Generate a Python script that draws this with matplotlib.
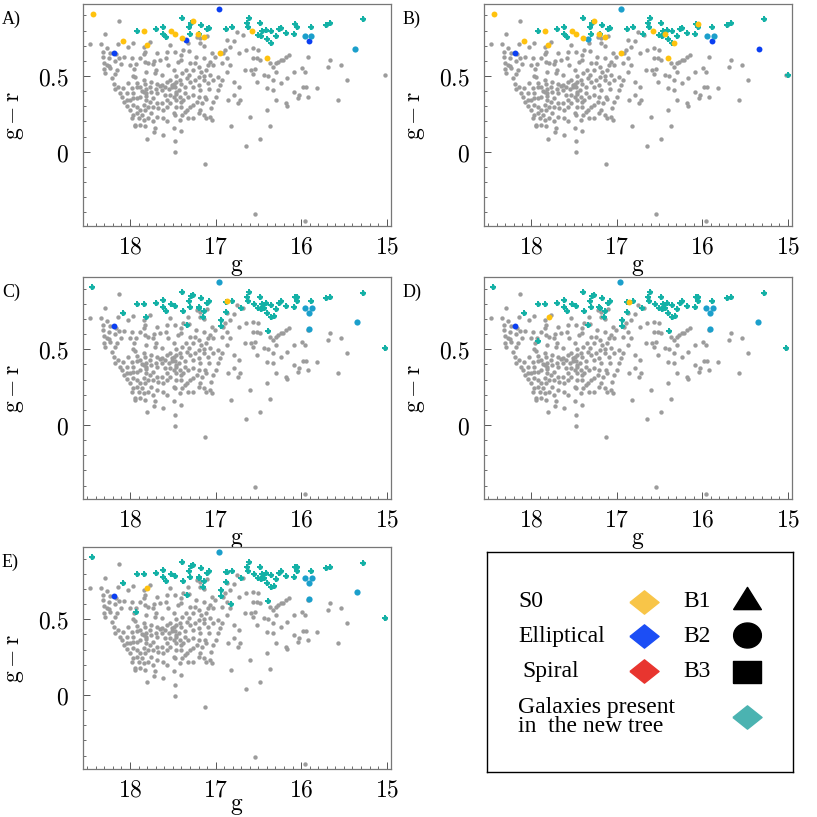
import numpy as np
import matplotlib.pyplot as plt
from matplotlib.ticker import MultipleLocator, FixedLocator, FixedFormatter

plt.rcParams['mathtext.fontset'] = 'cm'

# ---------------- datos: galaxias (g, g-r) ----------------
# galaxias sin clasificar (gris), iguales en todos los paneles
others = [
    (18.47, 0.708), (18.13, 0.862), (18.29, 0.774), (18.34, 0.708), (18.27, 0.686), (18.32, 0.66),
    (18.32, 0.627), (18.23, 0.653), (18.14, 0.71), (18.16, 0.643), (18.30, 0.588), (18.27, 0.572),
    (18.25, 0.566), (18.23, 0.55), (18.31, 0.544), (18.13, 0.62), (18.07, 0.623), (18.11, 0.577),
    (18.21, 0.485), (18.18, 0.513), (18.15, 0.54), (17.97, 0.72), (17.84, 0.643), (17.82, 0.66),
    (17.83, 0.594), (17.98, 0.616), (18.00, 0.572), (17.95, 0.544), (17.93, 0.577), (17.96, 0.50),
    (17.94, 0.49), (17.72, 0.60), (17.73, 0.577), (17.79, 0.583), (17.81, 0.528), (17.70, 0.54),
    (17.71, 0.518), (17.63, 0.507), (17.65, 0.434), (17.68, 0.45), (17.82, 0.45), (17.75, 0.463),
    (17.84, 0.474), (17.88, 0.43), (17.81, 0.412), (17.77, 0.43), (17.86, 0.403), (17.92, 0.425),
    (17.98, 0.419), (17.96, 0.386), (18.04, 0.386), (18.12, 0.386), (18.18, 0.412), (18.19, 0.45),
    (18.14, 0.43), (18.08, 0.419), (18.09, 0.364), (18.07, 0.331), (18.00, 0.342), (17.96, 0.353),
    (17.92, 0.353), (17.96, 0.309), (18.04, 0.303), (18.00, 0.276), (17.96, 0.243), (17.94, 0.178),
    (17.94, 0.167), (17.98, 0.221), (17.88, 0.276), (17.86, 0.243), (17.89, 0.221), (17.84, 0.309),
    (17.81, 0.342), (17.77, 0.331), (17.81, 0.368), (17.73, 0.353), (17.69, 0.386), (17.75, 0.254),
    (17.79, 0.221), (17.69, 0.232), (17.73, 0.20), (17.82, 0.167), (17.71, 0.156), (17.72, 0.127),
    (17.80, 0.083), (17.61, 0.112), (17.61, 0.276), (17.63, 0.32), (17.57, 0.342), (17.53, 0.375),
    (17.59, 0.375), (17.55, 0.412), (17.51, 0.425), (17.49, 0.45), (17.53, 0.474), (17.46, 0.463),
    (17.42, 0.474), (17.40, 0.45), (17.46, 0.50), (17.49, 0.54), (17.58, 0.616), (17.56, 0.572),
    (17.53, 0.704), (17.57, 0.66), (17.47, 0.66), (17.40, 0.605), (17.38, 0.671), (17.31, 0.664),
    (17.32, 0.715), (17.22, 0.759), (17.18, 0.748), (17.18, 0.715), (17.14, 0.697), (17.10, 0.763),
    (17.30, 0.583), (17.26, 0.54), (17.35, 0.54), (17.39, 0.518), (17.34, 0.485), (17.30, 0.463),
    (17.27, 0.43), (17.36, 0.425), (17.43, 0.408), (17.46, 0.397), (17.49, 0.364), (17.46, 0.342),
    (17.40, 0.331), (17.46, 0.298), (17.49, 0.254), (17.47, 0.243), (17.39, 0.243), (17.36, 0.265),
    (17.33, 0.276), (17.30, 0.298), (17.26, 0.309), (17.22, 0.331), (17.32, 0.364), (17.26, 0.375),
    (17.20, 0.364), (17.18, 0.408), (17.20, 0.441), (17.14, 0.474), (17.17, 0.528), (17.11, 0.54),
    (17.09, 0.572), (17.03, 0.572), (17.07, 0.507), (17.03, 0.474), (17.09, 0.452), (17.08, 0.412),
    (17.12, 0.364), (17.11, 0.346), (17.16, 0.32), (17.18, 0.276), (17.14, 0.243), (17.07, 0.232),
    (17.05, 0.287), (17.03, 0.331), (16.99, 0.364), (16.97, 0.408), (16.95, 0.441), (16.93, 0.474),
    (16.97, 0.496), (16.87, 0.528), (16.83, 0.572), (16.87, 0.616), (16.91, 0.649), (16.89, 0.671),
    (16.83, 0.693), (16.87, 0.737), (16.75, 0.792), (16.68, 0.77), (16.79, 0.73), (16.73, 0.649),
    (16.79, 0.463), (16.73, 0.43), (16.79, 0.375), (16.85, 0.342), (16.74, 0.32), (16.72, 0.342),
    (16.82, 0.167), (17.04, 0.211), (17.49, 0.156), (17.40, 0.134), (17.48, 0.068), (17.47, -0.004),
    (17.12, -0.079), (16.64, 0.039), (16.54, -0.41), (15.96, -0.458), (16.60, 0.232), (16.48, 0.083),
    (16.37, 0.171), (16.40, 0.276), (16.29, 0.342), (16.18, 0.32), (16.16, 0.303), (16.08, 0.397),
    (16.03, 0.375), (16.04, 0.353), (15.98, 0.425), (15.94, 0.425), (15.92, 0.364), (15.82, 0.419),
    (15.57, 0.342), (15.47, 0.474), (15.02, 0.507), (15.69, 0.561), (15.66, 0.605), (15.53, 0.572),
    (15.99, 0.55), (15.96, 0.528), (15.92, 0.627), (16.08, 0.528), (16.16, 0.485), (16.24, 0.452),
    (16.33, 0.474), (16.40, 0.419), (16.33, 0.408), (16.39, 0.50), (16.44, 0.507), (16.52, 0.463),
    (16.56, 0.513), (16.54, 0.546), (16.59, 0.54), (16.66, 0.54), (16.56, 0.616), (16.52, 0.616),
    (16.48, 0.605), (16.37, 0.583), (16.33, 0.561), (16.29, 0.583), (16.27, 0.594), (16.24, 0.605),
    (16.21, 0.605), (16.18, 0.627), (16.14, 0.638), (16.29, 0.528), (16.50, 0.671), (16.56, 0.682),
    (16.64, 0.671), (16.92, 0.583), (17.01, 0.627), (17.04, 0.649), (17.13, 0.616), (17.07, 0.594),
    (17.23, 0.627), (17.24, 0.583), (17.19, 0.561), (17.40, 0.638), (17.44, 0.594), (17.65, 0.605),
    (17.69, 0.649), (17.77, 0.726), (17.84, 0.693), (17.88, 0.616), (18.02, 0.693), (18.18, 0.601),
    (18.29, 0.518), (18.25, 0.616), (17.14, 0.50), (17.31, 0.507), (17.24, 0.474), (17.19, 0.496),
    (17.36, 0.386), (17.57, 0.298), (17.67, 0.287), (17.69, 0.32), (17.73, 0.298), (17.79, 0.298),
    (17.82, 0.276), (17.92, 0.254), (18.04, 0.342), (18.02, 0.452), (17.92, 0.456), (17.88, 0.364),
    (17.84, 0.397), (17.81, 0.386), (17.75, 0.397), (17.70, 0.412), (17.63, 0.408), (17.63, 0.441),
    (17.57, 0.463), (17.59, 0.43), (17.51, 0.441), (17.47, 0.425), (17.46, 0.382), (17.42, 0.364),
    (17.40, 0.298), (17.38, 0.342), (17.53, 0.32), (17.61, 0.221), (17.57, 0.20), (17.42, 0.211),
    (17.32, 0.221), (17.26, 0.221), (17.11, 0.221), (17.20, 0.254), (17.92, 0.298), (17.84, 0.211),
    (17.88, 0.178),
]

# galaxias del nuevo arbol presentes en todos los paneles
tree_base = [
    (17.92, 0.798), (17.70, 0.807), (17.62, 0.825), (17.61, 0.78), (17.58, 0.755),
    (17.39, 0.88), (17.29, 0.849), (17.31, 0.82), (17.30, 0.778), (17.19, 0.774), (17.17, 0.836),
    (17.10, 0.807), (17.08, 0.816), (16.88, 0.811), (16.81, 0.82),
    (16.61, 0.88), (16.63, 0.847), (16.62, 0.82), (16.48, 0.847), (16.50, 0.772), (16.47, 0.765),
    (16.46, 0.80), (16.41, 0.805), (16.35, 0.794), (16.40, 0.741), (16.35, 0.715), (16.29, 0.763),
    (16.26, 0.807), (16.23, 0.816), (16.18, 0.783), (16.07, 0.842), (16.05, 0.82), (16.08, 0.78),
    (15.89, 0.82), (15.71, 0.836), (15.66, 0.847), (15.28, 0.873),
]
# extras del nuevo arbol en C, D y E
tree_cde = [
    (18.44, 0.912), (18.08, 0.737), (17.84, 0.80), (17.52, 0.80), (17.47, 0.785), (17.38, 0.754),
    (17.33, 0.66), (17.26, 0.857), (17.20, 0.78), (17.14, 0.755), (17.15, 0.71), (16.94, 0.693),
    (16.94, 0.651), (16.88, 0.748), (16.70, 0.775), (16.55, 0.80), (16.44, 0.774), (16.32, 0.72),
    (16.39, 0.622), (16.05, 0.842), (15.02, 0.506),
]

s0_A = [(18.43, 0.908), (17.84, 0.80), (18.08, 0.73), (17.80, 0.706), (17.52, 0.80), (17.48, 0.78),
        (17.39, 0.752), (17.26, 0.86), (17.21, 0.776), (17.14, 0.755), (16.95, 0.65), (16.395, 0.616),
        (16.57, 0.80)]
ell_A = [(16.96, 0.94), (18.19, 0.651), (17.35, 0.74), (15.91, 0.732)]
mix_A = [(15.37, 0.678), (15.95, 0.763), (15.88, 0.765)]
tree_A = tree_base

s0_B = s0_A + [(16.44, 0.774), (16.33, 0.715), (16.05, 0.842)]
ell_B = [(18.19, 0.653), (15.89, 0.732), (15.34, 0.678)]
mix_B = [(16.95, 0.94), (17.34, 0.741), (15.94, 0.765), (15.86, 0.765)]
tree_B = tree_base + [(15.0, 0.504), (16.69, 0.774)]

mix_CDE = [(16.96, 0.945), (15.35, 0.68), (15.95, 0.77), (15.87, 0.77), (15.91, 0.737), (15.91, 0.632)]
ell_CDE = [(18.19, 0.655)]

s0_C = [(16.87, 0.818)]
tree_C = tree_base + tree_cde + [(17.81, 0.71)]

s0_D = [(16.86, 0.81), (17.79, 0.714)]
tree_D = tree_base + tree_cde + [(17.92, 0.555)]

s0_E = [(17.80, 0.704)]
tree_E = tree_base + tree_cde + [(17.93, 0.548), (16.82, 0.60), (16.87, 0.81)]

paneles = {
    'A)': (tree_A, s0_A, ell_A, mix_A),
    'B)': (tree_B, s0_B, ell_B, mix_B),
    'C)': (tree_C, s0_C, ell_CDE, mix_CDE),
    'D)': (tree_D, s0_D, ell_CDE, mix_CDE),
    'E)': (tree_E, s0_E, ell_CDE, mix_CDE),
}

# colores
c_gris = '#9c9c9c'
c_s0 = '#ffc20e'
c_ell = '#0b3ff2'
c_tree = '#14b1a6'
c_mix = '#1b9fcb'

# ---------------- figura ----------------
fig = plt.figure(figsize=(8.17, 8.17), dpi=100)

W, H = 308 / 817, 222 / 817
posiciones = {
    'A)': (83 / 817, 0.7234), 'B)': (484 / 817, 0.7234),
    'C)': (83 / 817, 0.3889), 'D)': (484 / 817, 0.3889),
    'E)': (83 / 817, 0.0584),
}

def dibujar(ax, pts, color, s, marker='o', z=2):
    if len(pts) == 0:
        return
    arr = np.array(pts)
    ax.scatter(arr[:, 0], arr[:, 1], s=s, c=color, marker=marker, linewidths=0, zorder=z)

for nombre, (tree, s0, ell, mix) in paneles.items():
    x0, y0 = posiciones[nombre]
    ax = fig.add_axes([x0, y0, W, H])
    dibujar(ax, others, c_gris, 10)
    dibujar(ax, ell, c_ell, 18, z=3)
    dibujar(ax, mix, c_mix, 20, z=4)
    # cruz redondeada para las del nuevo arbol
    dibujar(ax, tree, c_tree, 16, marker='P', z=4)
    dibujar(ax, tree, c_tree, 11, z=4)
    dibujar(ax, s0, c_s0, 18, z=5)

    ax.set_xlim(18.55, 14.95)
    ax.set_ylim(-0.49, 0.975)
    ax.xaxis.set_major_locator(FixedLocator([18, 17, 16, 15]))
    ax.xaxis.set_major_formatter(FixedFormatter(['$18$', '$17$', '$16$', '$15$']))
    ax.yaxis.set_major_locator(FixedLocator([0, 0.5]))
    ax.yaxis.set_major_formatter(FixedFormatter(['$0$', '$0.5$']))
    ax.xaxis.set_minor_locator(MultipleLocator(0.1))
    ax.yaxis.set_minor_locator(MultipleLocator(0.1))
    ax.tick_params(which='both', direction='in', top=False, right=False, color='#555555')
    ax.tick_params(which='major', length=5, width=0.7, labelsize=17)
    ax.tick_params(which='minor', length=2.5, width=0.6)
    ax.tick_params(axis='x', which='major', pad=6)
    ax.tick_params(axis='y', which='major', pad=10)
    for sp in ax.spines.values():
        sp.set_color('#777777')
        sp.set_linewidth(0.9)
    ax.set_xlabel(r'$\mathrm{g}$', fontsize=17, labelpad=-6 if nombre == 'E)' else -3)
    ax.set_ylabel(r'$\mathrm{g}-\mathrm{r}$', fontsize=17, labelpad=9)
    fig.text(x0 - 81 / 817, y0 + H - 15 / 817, nombre, fontsize=13, family='Liberation Serif',
             va='center', ha='left')

# ---------------- leyenda ----------------
lg = fig.add_axes([486.7 / 817, 45 / 817, 306.3 / 817, 220 / 817])
lg.set_xlim(0, 1)
lg.set_ylim(0, 1)
lg.set_xticks([])
lg.set_yticks([])
for sp in lg.spines.values():
    sp.set_color('black')
    sp.set_linewidth(1.0)

diamante = [(-1, 0), (0, 0.8), (1, 0), (0, -0.8), (-1, 0)]
triangulo = [(-1, -0.8), (1, -0.8), (0, 0.8), (-1, -0.8)]
cuadrado = [(-1, -0.82), (1, -0.82), (1, 0.82), (-1, 0.82), (-1, -0.82)]
t = np.linspace(0, 2 * np.pi, 40)
elipse = list(zip(np.cos(t), 0.9 * np.sin(t)))

f_ley = dict(fontsize=17, family='Liberation Serif', va='center', ha='left')
lg.text(0.102, 0.773, 'S0', **f_ley)
lg.text(0.102, 0.618, 'Elliptical', **f_ley)
lg.text(0.115, 0.459, 'Spiral', **f_ley)
lg.text(0.102, 0.25, 'Galaxies present\nin  the new tree', linespacing=0.92, **f_ley)
lg.text(0.641, 0.773, 'B1', **f_ley)
lg.text(0.641, 0.618, 'B2', **f_ley)
lg.text(0.641, 0.459, 'B3', **f_ley)

lg.plot(0.514, 0.773, marker=diamante, ms=21, color='#f8c548', ls='none')
lg.plot(0.514, 0.618, marker=diamante, ms=21, color='#1c4ef5', ls='none')
lg.plot(0.514, 0.459, marker=diamante, ms=21, color='#e8352f', ls='none')
lg.plot(0.85, 0.25, marker=diamante, ms=21, color='#4bb3b1', ls='none')
lg.plot(0.85, 0.79, marker=triangulo, ms=20, color='black', ls='none')
lg.plot(0.85, 0.623, marker=elipse, ms=20, color='black', ls='none')
lg.plot(0.85, 0.455, marker=cuadrado, ms=20, color='black', ls='none')

fig.savefig('out.png', dpi=100)
